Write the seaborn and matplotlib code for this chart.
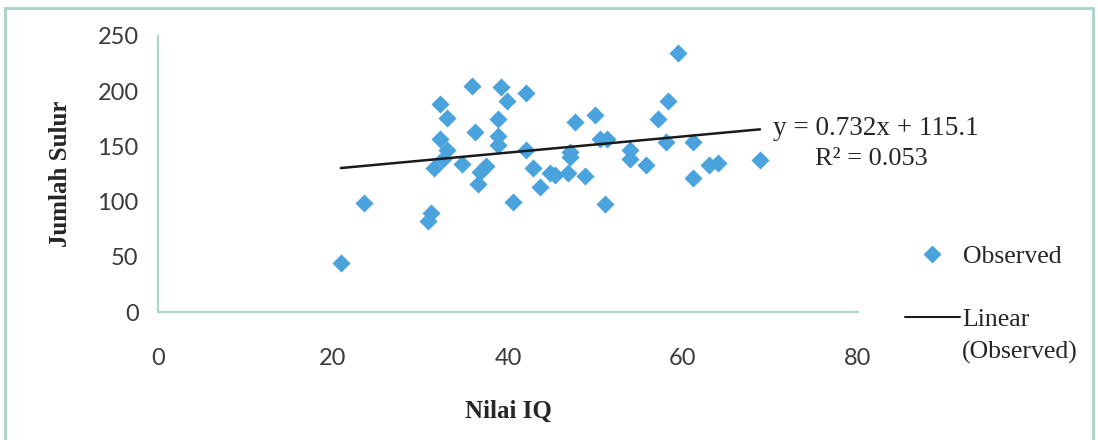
import matplotlib
matplotlib.use('Agg')
import matplotlib.pyplot as plt
from matplotlib.patches import Rectangle
from matplotlib.lines import Line2D
import seaborn as sns
import numpy as np
import pandas as pd

# data
nilai_iq = [20.9, 23.5, 30.9, 31.2, 31.5, 32.2, 32.2, 33.0, 33.0, 32.6,
            34.7, 35.9, 36.2, 36.6, 36.8, 37.5, 38.8, 38.9, 38.9, 39.2,
            39.9, 40.6, 42.1, 42.1, 42.9, 43.6, 44.8, 45.4, 46.9, 47.1,
            47.1, 47.6, 48.8, 49.9, 50.5, 51.1, 51.3, 53.9, 53.9, 55.8,
            57.1, 58.1, 58.3, 59.4, 61.1, 61.1, 63.0, 64.0, 68.8]
jumlah_sulur = [44, 99, 82, 90, 130, 157, 188, 176, 147, 139,
                134, 205, 163, 116, 127, 132, 175, 159, 151, 204,
                191, 100, 198, 147, 130, 113, 126, 124, 126, 145,
                140, 172, 123, 178, 157, 98, 157, 147, 139, 133,
                175, 154, 191, 235, 154, 121, 133, 135, 138]
trend_slope = 0.732
trend_intercept = 115.1
r_squared = 0.053
x_ticks = [0, 20, 40, 60, 80]
y_ticks = [0, 50, 100, 150, 200, 250]

df = pd.DataFrame({'iq': nilai_iq, 'sulur': jumlah_sulur})
x_line = np.array([min(nilai_iq), max(nilai_iq)])
df_line = pd.DataFrame({'iq': x_line, 'sulur': trend_slope * x_line + trend_intercept})

sns.set_style('white')
plt.rcParams['font.family'] = ['Liberation Serif', 'DejaVu Sans']

blue = '#4aa3dd'
teal = '#a9d6c6'

fig = plt.figure(figsize=(10.98, 4.40), dpi=100)
ax = fig.add_axes([158/1098, 1 - 312/440, 700/1098, 276/440])

sns.scatterplot(data=df, x='iq', y='sulur', marker='D', s=85, color=blue,
                linewidth=0, ax=ax, legend=False, zorder=3)
sns.lineplot(data=df_line, x='iq', y='sulur', color='#1a1a1a', linewidth=1.8,
             ax=ax, legend=False, zorder=4)

ax.set_xlim(0, 80)
ax.set_ylim(0, 250)
ax.set_xticks(x_ticks)
ax.set_yticks(y_ticks)
for lab in ax.get_xticklabels() + ax.get_yticklabels():
    lab.set_fontfamily('Lato')
    lab.set_fontsize(17)
    lab.set_color('#3a3a3a')
ax.tick_params(axis='both', length=6, width=1.2, color=teal, direction='out')
ax.tick_params(axis='x', pad=20)
ax.tick_params(axis='y', pad=8)
sns.despine(ax=ax)
for s in ['left', 'bottom']:
    ax.spines[s].set_color(teal)
    ax.spines[s].set_linewidth(1.5)

ax.set_xlabel('Nilai IQ', fontsize=18, fontweight='bold', labelpad=22)
ax.set_ylabel('Jumlah Sulur', fontsize=18, fontweight='bold', labelpad=18)

ax.text(82, 166, 'y = %.3fx + %.1f' % (trend_slope, trend_intercept),
        ha='center', va='center', fontsize=19.5, clip_on=False)
ax.text(81.5, 139, 'R² = %.3f' % r_squared,
        ha='center', va='center', fontsize=19, clip_on=False)

# legend: handle sits next to the first line "Linear"
handles = [Line2D([], [], marker='D', color=blue, linestyle='none', markersize=8.5),
           Line2D([], [], color='#1a1a1a', linewidth=1.5)]
fig.legend(handles, ['Observed', 'Linear'], loc='upper left',
           bbox_to_anchor=(905/1098, 1 - 245/440), frameon=False, fontsize=18.5,
           borderpad=0, borderaxespad=0,
           handlelength=2.14, handletextpad=0.1, labelspacing=1.56)
fig.text(962/1098, 1 - 352/440, '(Observed)', ha='left', va='center', fontsize=18.5)

fig.patches.append(Rectangle((5/1098, -0.05), 1088/1098, 1 - 8/440 + 0.05,
                             transform=fig.transFigure, fill=False,
                             edgecolor=teal, linewidth=2))

fig.savefig('out.png', dpi=100)
